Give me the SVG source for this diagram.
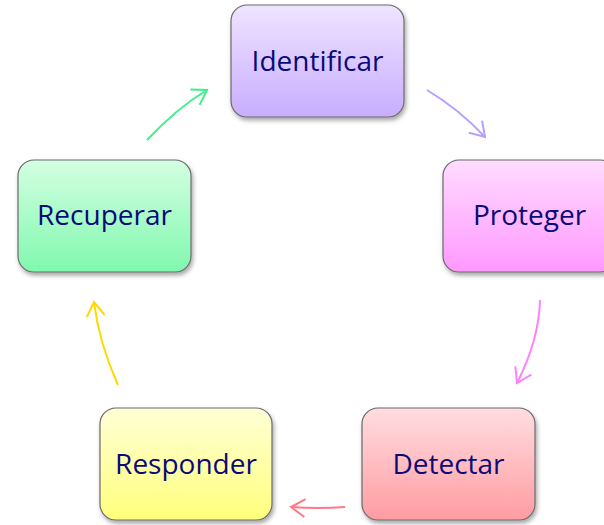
<svg xmlns="http://www.w3.org/2000/svg" width="604" height="525" viewBox="0 0 604 525">
<style>
.box{stroke:#6b6b6b;stroke-width:1.2}
.lbl{font-family:"Open Sans","Noto Sans",sans-serif;font-size:28px;fill:#0a0a78;text-anchor:middle}
.arr{fill:none;stroke-width:2}
</style>
<defs>
<filter id="sh" x="-10%" y="-10%" width="125%" height="130%">
<feDropShadow dx="1.5" dy="3" stdDeviation="2" flood-color="#000" flood-opacity="0.35"/>
</filter>
<linearGradient id="gP" x1="0" y1="0" x2="0" y2="1"><stop offset="0" stop-color="#efe4ff"/><stop offset="1" stop-color="#c8adff"/></linearGradient>
<linearGradient id="gM" x1="0" y1="0" x2="0" y2="1"><stop offset="0" stop-color="#ffdcff"/><stop offset="1" stop-color="#ff98ff"/></linearGradient>
<linearGradient id="gR" x1="0" y1="0" x2="0" y2="1"><stop offset="0" stop-color="#ffdde0"/><stop offset="1" stop-color="#ff9ca2"/></linearGradient>
<linearGradient id="gY" x1="0" y1="0" x2="0" y2="1"><stop offset="0" stop-color="#ffffd6"/><stop offset="1" stop-color="#ffff7c"/></linearGradient>
<linearGradient id="gG" x1="0" y1="0" x2="0" y2="1"><stop offset="0" stop-color="#d4ffe2"/><stop offset="1" stop-color="#80f8ae"/></linearGradient>
<marker id="mP" markerUnits="userSpaceOnUse" markerWidth="40" markerHeight="40" refX="0" refY="0" orient="auto" overflow="visible"><path d="M-14,-9 L0,0 L-14,9" fill="none" stroke="#b89cff" stroke-width="2"/></marker>
<marker id="mM" markerUnits="userSpaceOnUse" markerWidth="40" markerHeight="40" refX="0" refY="0" orient="auto" overflow="visible"><path d="M-14,-9 L0,0 L-14,9" fill="none" stroke="#ff80ff" stroke-width="2"/></marker>
<marker id="mR" markerUnits="userSpaceOnUse" markerWidth="40" markerHeight="40" refX="0" refY="0" orient="auto" overflow="visible"><path d="M-14,-9 L0,0 L-14,9" fill="none" stroke="#ff7a84" stroke-width="2"/></marker>
<marker id="mY" markerUnits="userSpaceOnUse" markerWidth="40" markerHeight="40" refX="0" refY="0" orient="auto" overflow="visible"><path d="M-14,-9 L0,0 L-14,9" fill="none" stroke="#ffd800" stroke-width="2"/></marker>
<marker id="mG" markerUnits="userSpaceOnUse" markerWidth="40" markerHeight="40" refX="0" refY="0" orient="auto" overflow="visible"><path d="M-14,-9 L0,0 L-14,9" fill="none" stroke="#3ef08a" stroke-width="2"/></marker>
</defs>
<rect width="604" height="525" fill="#ffffff"/>
<g id="connectors">
<path class="arr" d="M427,90 Q460,110 485,137" stroke="#b89cff" marker-end="url(#mP)"/>
<path class="arr" d="M540,300 Q539,340 517,383" stroke="#ff80ff" marker-end="url(#mM)"/>
<path class="arr" d="M345,507 Q318,509 291,507" stroke="#ff7a84" marker-end="url(#mR)"/>
<path class="arr" d="M118,385 Q99,343 94,302" stroke="#ffd800" marker-end="url(#mY)"/>
<path class="arr" d="M147,140 Q177,108 207,90" stroke="#3ef08a" marker-end="url(#mG)"/>
</g>
<g id="identificar">
<rect class="box" x="231" y="5" width="173" height="112" rx="16" fill="url(#gP)" filter="url(#sh)"/>
<text class="lbl" x="317.5" y="71">Identificar</text>
</g>
<g id="proteger">
<rect class="box" x="443" y="160" width="173" height="112" rx="16" fill="url(#gM)" filter="url(#sh)"/>
<text class="lbl" x="529.5" y="225">Proteger</text>
</g>
<g id="detectar">
<rect class="box" x="362" y="408" width="173" height="112" rx="16" fill="url(#gR)" filter="url(#sh)"/>
<text class="lbl" x="448.5" y="474">Detectar</text>
</g>
<g id="responder">
<rect class="box" x="100" y="408" width="172" height="112" rx="16" fill="url(#gY)" filter="url(#sh)"/>
<text class="lbl" x="186" y="474">Responder</text>
</g>
<g id="recuperar">
<rect class="box" x="18" y="160" width="173" height="112" rx="16" fill="url(#gG)" filter="url(#sh)"/>
<text class="lbl" x="104.5" y="225">Recuperar</text>
</g>
</svg>
